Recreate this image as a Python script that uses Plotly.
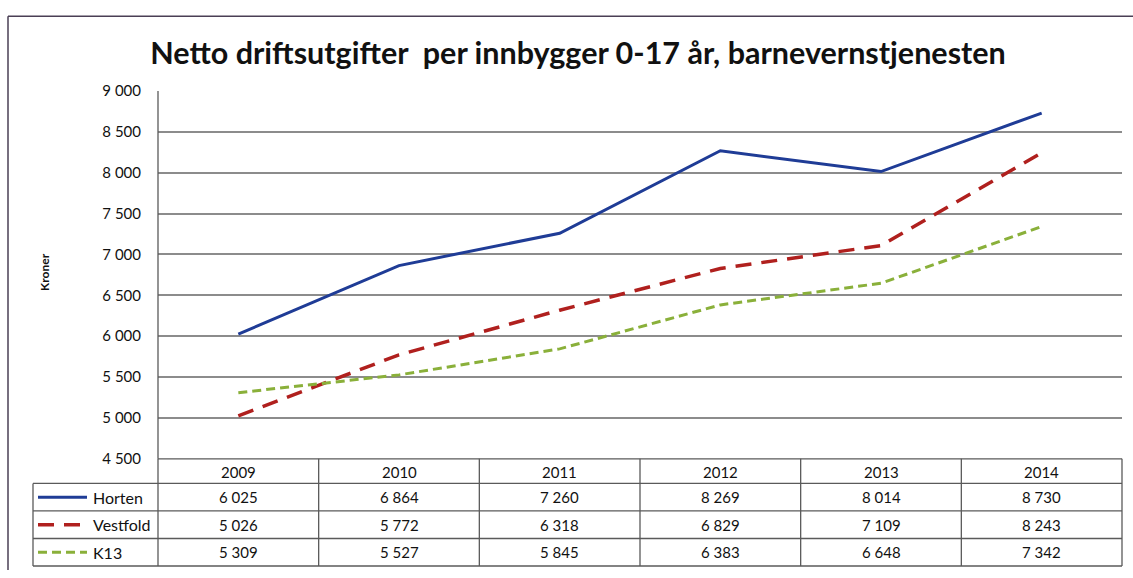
import plotly.graph_objects as go

years = ["2009", "2010", "2011", "2012", "2013", "2014"]
series_names = ["Horten", "Vestfold", "K13"]
horten = [6025, 6864, 7260, 8269, 8014, 8730]
vestfold = [5026, 5772, 6318, 6829, 7109, 8243]
k13 = [5309, 5527, 5845, 6383, 6648, 7342]
y_ticks = [4500, 5000, 5500, 6000, 6500, 7000, 7500, 8000, 8500, 9000]

W, H = 1133, 578
# plot-area box in pixels (table included below the chart)
L, R, T, B = 158, 1122, 91, 575
Y_BOTTOM = 465  # pixel row where 4 500 sits / table header starts


def px_x(px):
    return (px - L) / (R - L)


def px_y(py):
    return (B - py) / (B - T)


def fmt(v):
    return f"{v:,}".replace(",", " ")


styles = [
    dict(color="#1F3C96", width=3, dash="solid"),
    dict(color="#B0201E", width=3.5, dash="16px,10px"),
    dict(color="#8AB03A", width=3, dash="9px,5px"),
]
values = [horten, vestfold, k13]

fig = go.Figure()
for name, vals, st in zip(series_names, values, styles):
    fig.add_trace(go.Scatter(x=years, y=vals, mode="lines", name=name, line=st, showlegend=False))

grid = "#8C8C8C"
edge = "#5A5A5A"
shapes = []
# outer frame (right/bottom sides run off the page in the reference)
shapes.append(dict(type="line", xref="paper", yref="paper", x0=px_x(8), x1=px_x(W),
                   y0=px_y(15), y1=px_y(15), line=dict(color="#4A3F55", width=1.5)))
shapes.append(dict(type="line", xref="paper", yref="paper", x0=px_x(8), x1=px_x(8),
                   y0=px_y(15), y1=px_y(H), line=dict(color="#4A3F55", width=1.5)))
# data table
row_edges = [465, 490, 518, 546, 574]
col_w = (R - L) / len(years)
for i, ry in enumerate(row_edges):
    x0 = L if i == 0 else 33
    shapes.append(dict(type="line", xref="paper", yref="paper", x0=px_x(x0), x1=px_x(R),
                       y0=px_y(ry), y1=px_y(ry), line=dict(color=edge, width=1.3)))
for j in range(len(years) + 1):
    cx = L + j * col_w
    shapes.append(dict(type="line", xref="paper", yref="paper", x0=px_x(cx), x1=px_x(cx),
                       y0=px_y(465), y1=px_y(574), line=dict(color=edge, width=1.3)))
shapes.append(dict(type="line", xref="paper", yref="paper", x0=px_x(33), x1=px_x(33),
                   y0=px_y(490), y1=px_y(574), line=dict(color=edge, width=1.3)))
# plot-area left edge
shapes.append(dict(type="line", xref="paper", yref="paper", x0=0, x1=0,
                   y0=px_y(465), y1=1, line=dict(color=edge, width=1.3)))

annotations = []
font = "Lato, Carlito, Calibri, sans-serif"
cell = dict(xref="paper", yref="paper", showarrow=False, xanchor="center", yanchor="middle",
            font=dict(size=15, color="#111"))
for j, yr in enumerate(years):
    cx = L + (j + 0.5) * col_w
    annotations.append(dict(cell, text=yr, x=px_x(cx), y=px_y(478)))
    for k, vals in enumerate(values):
        cy = (row_edges[k + 1] + row_edges[k + 2]) / 2
        annotations.append(dict(cell, text=fmt(vals[j]), x=px_x(cx), y=px_y(cy)))
for k, (name, st) in enumerate(zip(series_names, styles)):
    cy = (row_edges[k + 1] + row_edges[k + 2]) / 2
    shapes.append(dict(type="line", xref="paper", yref="paper", x0=px_x(38), x1=px_x(87),
                       y0=px_y(cy), y1=px_y(cy), line=st))
    annotations.append(dict(cell, text=name, x=px_x(91), y=px_y(cy), xanchor="left",
                            font=dict(size=16, color="#111")))

annotations.append(dict(text="<b>Kroner</b>", x=px_x(45), y=px_y(275), xref="paper", yref="paper",
                        xanchor="center", yanchor="middle", textangle=-90, showarrow=False,
                        font=dict(size=12, color="#111")))

fig.update_layout(
    width=W, height=H,
    margin=dict(l=L, r=W - R, t=T, b=H - B),
    paper_bgcolor="white", plot_bgcolor="white",
    separators=", ",
    font=dict(family=font, color="#111"),
    title=dict(text="<b>Netto driftsutgifter  per innbygger 0-17 år, barnevernstjenesten</b>",
               x=578 / W, xref="container", xanchor="center", y=1 - 53 / H, yanchor="middle",
               font=dict(size=30.5, color="#111")),
    xaxis=dict(type="category", range=[-0.5, 5.5], showticklabels=False, showgrid=False,
               zeroline=False, showline=False),
    yaxis=dict(domain=[px_y(Y_BOTTOM), 1], range=[4500, 9000], tickvals=y_ticks,
               tickformat=",d", showgrid=True, gridcolor=grid, gridwidth=1.5, zeroline=False,
               showline=False, ticks="", ticklabelstandoff=16, tickfont=dict(size=15, color="#111")),
    shapes=shapes,
    annotations=annotations,
)

# no body margin; if the viewport is taller than the figure, stretch the figure to fill it
fig.write_html(
    "out.html",
    config={"displayModeBar": False},
    post_script="var gd=document.getElementById('{plot_id}');"
                "document.body.style.margin='0px';"
                "document.documentElement.style.overflow='hidden';"
                "var s=Math.max(1, window.innerHeight/578);"
                "gd.style.transformOrigin='0 0';"
                "gd.style.transform='scale(1,'+s+')';",
)
